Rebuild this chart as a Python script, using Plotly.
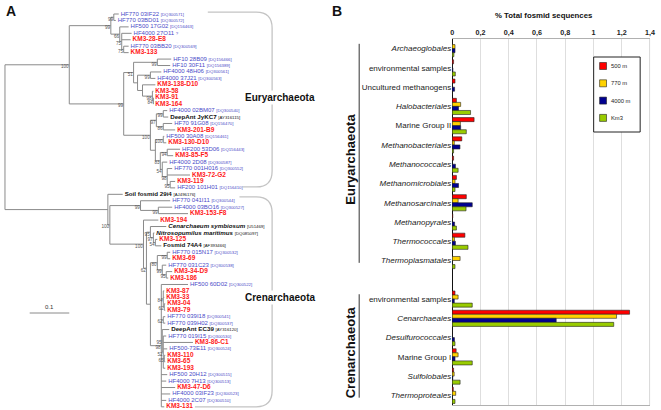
import plotly.graph_objects as go

# ======================= Panel B data =======================
series_names = ["500 m", "770 m", "4000 m", "Km3"]
series_colors = ["#FF0000", "#FFD200", "#000090", "#99CC00"]

eury_categories = ["Archaeoglobales", "environmental samples", "Uncultured methanogens",
                   "Halobacteriales", "Marine Group II", "Methanobacteriales",
                   "Methanococcales", "Methanomicrobiales", "Methanosarcinales",
                   "Methanopyrales", "Thermococcales", "Thermoplasmatales"]
cren_categories = ["environmental samples", "Cenarchaeales", "Desulfurococcales",
                   "Marine Group I", "Sulfolobales", "Thermoproteales"]
plain_categories = ["environmental samples", "Uncultured methanogens",
                    "Marine Group II", "Marine Group I"]

eury_500 = [0.0, 0.010, 0.020, 0.030, 0.155, 0.068, 0.010, 0.030, 0.100, 0.004, 0.090, 0.0]
eury_770 = [0.020, 0.0, 0.0, 0.060, 0.058, 0.015, 0.0, 0.020, 0.042, 0.0, 0.016, 0.056]
eury_4000 = [0.020, 0.005, 0.017, 0.045, 0.060, 0.055, 0.023, 0.045, 0.142, 0.017, 0.023, 0.0]
eury_km3 = [0.012, 0.022, 0.0, 0.130, 0.100, 0.010, 0.042, 0.020, 0.098, 0.030, 0.112, 0.020]

cren_500 = [0.020, 1.255, 0.0, 0.028, 0.010, 0.008]
cren_770 = [0.042, 1.163, 0.0, 0.042, 0.014, 0.025]
cren_4000 = [0.015, 0.736, 0.016, 0.020, 0.004, 0.0]
cren_km3 = [0.142, 1.143, 0.020, 0.142, 0.056, 0.020]

x_ticks = [0, 0.2, 0.4, 0.6, 0.8, 1.0, 1.2, 1.4]
x_tick_labels = ["0", "0,2", "0,4", "0,6", "0,8", "1", "1,2", "1,4"]

# ======================= Panel A data (tree) =======================
def leaf(name, bl, kind="env", acc=""):
    return {"name": name, "bl": bl, "kind": kind, "acc": acc}


def node(bl, sup, *kids):
    return {"bl": bl, "sup": sup, "kids": list(kids)}


eury_clade = node(0.1625, 100,
    node(0.105, 99,
        node(0.0075, 99,
            leaf("HF770 03IF22", 0.0125, acc="DQ300571"),
            leaf("HF770 03BD01", 0.005, acc="DQ300572")),
        node(0.0225, 66,
            leaf("HF500 17G02", 0.0225, acc="DQ156463"),
            node(0.005, 75,
                leaf("HF4000 27O11", 0.025, acc="?"),
                leaf("KM3-28-E8", 0.0225, "km3"),
                node(0.005, 75,
                    leaf("HF770 03BB20", 0.0125, acc="DQ300569"),
                    leaf("KM3-133", 0.0125, "km3"))))),
    node(0.1375, 99,
        node(0.025, 51,
            node(0.06, 99,
                leaf("HF10 28B09", 0.035, acc="DQ156466"),
                leaf("HF10 30F11", 0.0325, acc="DQ156389")),
            node(0.01, None,
                node(0.0325, 99,
                    leaf("HF4000 48H06", 0.0275, acc="DQ300561"),
                    leaf("HF4000 37J21", 0.0125, acc="DQ300563")),
                node(0.0125, None,
                    leaf("KM3-138-D10", 0.0325, "km3"),
                    node(0.025, 98,
                        leaf("KM3-58", 0.0025, "km3"),
                        node(0.0025, 84,
                            leaf("KM3-91", 0.0, "km3"),
                            leaf("KM3-164", 0.0, "km3")))))),
        node(0.0675, 100,
            node(0.015, 97,
                node(0.0175, 99,
                    leaf("HF4000 02BM07", 0.01, acc="DQ300540"),
                    leaf("DeepAnt JyKC7", 0.0125, "ref", acc="AY316115")),
                node(0.0175, 86,
                    leaf("HF70 91G08", 0.0225, acc="DQ156470"),
                    leaf("KM3-201-B9", 0.03, "km3"))),
            node(0.0125, None,
                node(0.02, 100,
                    leaf("HF500 30A08", 0.0025, acc="DQ156461"),
                    leaf("KM3-130-D10", 0.0075, "km3")),
                node(0.0125, 83,
                    node(0.0175, 94,
                        leaf("HF200 53D06", 0.0325, acc="DQ156443"),
                        leaf("KM3-85-F5", 0.015, "km3")),
                    node(0.005, 54,
                        leaf("HF4000 2D08", 0.0125, acc="DQ300587"),
                        node(0.0125, 98,
                            leaf("HF770 001H016", 0.0125, acc="DQ300552"),
                            leaf("KM3-72-G2", 0.0575, "km3"),
                            node(0.0075, 95,
                                leaf("KM3-119", 0.0125, "km3"),
                                leaf("HF200 101H01", 0.0125, acc="DQ156410")))))))))

cren_clade = node(0.26, None,
    leaf("Soil fosmid 29i4", 0.0375, "ref", acc="AJ496176"),
    node(0.005, 100,
        node(0.0775, 99,
            leaf("HF770 041I11", 0.075, acc="DQ300544"),
            node(0.045, 99,
                leaf("HF4000 03BO16", 0.035, acc="DQ300527"),
                leaf("KM3-153-F8", 0.075, "km3"))),
        node(0.085, 100,
            leaf("KM3-194", 0.0375, "km3"),
            node(0.0075, 62,
                node(0.01, 95,
                    leaf("Cenarchaeum symbiosum", 0.04, "refi", acc="U51469"),
                    node(0.0075, 97,
                        leaf("Nitrosopumilus maritimus", 0.0025, "refi", acc="DQ085097"),
                        node(0.005, 54,
                            leaf("KM3-125", 0.005, "km3"),
                            leaf("Fosmid 74A4", 0.015, "ref", acc="AF393466")))),
                node(0.01, None,
                    node(0.0175, 80,
                        node(0.025, 99,
                            leaf("HF770 015N17", 0.0075, acc="DQ300532"),
                            leaf("KM3-69", 0.0075, "km3")),
                        node(0.0125, 99,
                            leaf("HF770 031C23", 0.01, acc="DQ300538"),
                            node(0.01, 95,
                                leaf("KM3-34-D9", 0.015, "km3"),
                                leaf("KM3-186", 0.005, "km3")))),
                    node(0.0275, 98,
                        leaf("HF500 60D02", 0.0675, acc="DQ300522"),
                        node(0.005, 84,
                            leaf("KM3-87", 0.0025, "km3"),
                            leaf("KM3-33", 0.0025, "km3"),
                            node(0.0025, 62,
                                leaf("KM3-04", 0.0025, "km3"),
                                leaf("KM3-79", 0.0025, "km3"))),
                        node(0.005, 62,
                            leaf("HF770 039I18", 0.005, acc="DQ300541"),
                            leaf("HF770 039H02", 0.005, acc="DQ300537")),
                        node(0.0025, 95,
                            leaf("DeepAnt EC39", 0.0175, "ref", acc="AY316120"),
                            node(0.0025, 52,
                                leaf("HF770 019I15", 0.0075, acc="DQ300530"),
                                leaf("KM3-86-C1", 0.075, "km3"),
                                leaf("HF500-73E11", 0.01, acc="DQ300524"),
                                node(0.0025, 65,
                                    leaf("KM3-110", 0.0025, "km3"),
                                    leaf("KM3-65", 0.0025, "km3")),
                                leaf("KM3-193", 0.005, "km3"))),
                        leaf("HF500 20H12", 0.015, acc="DQ300515"),
                        leaf("HF4000 7H13", 0.0125, acc="DQ300513"),
                        leaf("KM3-47-D6", 0.035, "km3"),
                        leaf("HF4000 03IF23", 0.0225, acc="DQ300523"),
                        leaf("HF4000 2C07", 0.0125, acc="DQ300510"),
                        leaf("KM3-131", 0.0075, "km3")))))))

tree_root = node(0.0, None, eury_clade, cren_clade)
scale_bar_length = 0.1

# ======================= Tree layout =======================
leaves = []
internal = []


def lay(n, x_parent):
    n["x"] = x_parent + n["bl"]
    n["px"] = x_parent
    if "kids" in n:
        for k in n["kids"]:
            lay(k, n["x"])
        n["y"] = (n["kids"][0]["y"] + n["kids"][-1]["y"]) / 2.0
        internal.append(n)
    else:
        n["y"] = float(len(leaves))
        leaves.append(n)


lay(tree_root, 0.0)

seg_x, seg_y = [], []
for n in internal:
    seg_x += [n["x"], n["x"], None]
    seg_y += [n["kids"][0]["y"], n["kids"][-1]["y"], None]
    for k in n["kids"]:
        seg_x += [k["px"], k["x"], None]
        seg_y += [k["y"], k["y"], None]

PX_PER_UNIT = 400.0      # horizontal pixels per substitution/site
LEAF_PITCH = 6.44        # vertical pixels per leaf
TREE_X0_PX = 3.0
TREE_Y0_PX = 14.0
W, H = 661, 410
PANEL_A_W = 330
LABEL_GAP = 2.0 / PX_PER_UNIT

fig = go.Figure()

# tree branches
fig.add_trace(go.Scatter(x=seg_x, y=seg_y, mode="lines", xaxis="x2", yaxis="y2",
                         line=dict(color="#8a8a8a", width=1), hoverinfo="skip",
                         showlegend=False))

# leaf labels
kind_style = {
    "env": dict(color="#4b4bc8", size=6),
    "km3": dict(color="#ff1a1a", size=6.5),
    "ref": dict(color="#111111", size=6.2),
    "refi": dict(color="#111111", size=6.2),
}


def leaf_text(lf):
    acc = lf["acc"]
    acc_txt = ""
    if acc:
        a = acc if acc == "?" else "[" + acc + "]"
        acc_txt = " <span style='font-size:4.3px'>" + a + "</span>"
    if lf["kind"] == "env":
        return lf["name"] + acc_txt
    if lf["kind"] == "km3":
        return "<b>" + lf["name"] + "</b>"
    if lf["kind"] == "ref":
        return "<b>" + lf["name"] + "</b>" + acc_txt
    return "<b><i>" + lf["name"] + "</i></b>" + acc_txt


for kind, style in kind_style.items():
    sel = [lf for lf in leaves if lf["kind"] == kind]
    fig.add_trace(go.Scatter(
        x=[lf["x"] + LABEL_GAP for lf in sel], y=[lf["y"] for lf in sel],
        text=[leaf_text(lf) for lf in sel], mode="text", textposition="middle right",
        textfont=dict(family="Liberation Sans, Arial, sans-serif", **style),
        xaxis="x2", yaxis="y2", hoverinfo="skip", showlegend=False))

# bootstrap supports
sup_nodes = [n for n in internal if n["sup"] is not None]
fig.add_trace(go.Scatter(
    x=[n["x"] - 0.7 / PX_PER_UNIT for n in sup_nodes], y=[n["y"] for n in sup_nodes],
    text=[str(n["sup"]) for n in sup_nodes], mode="text", textposition="bottom left",
    textfont=dict(family="Liberation Sans, Arial, sans-serif", size=4.6, color="#555555"),
    xaxis="x2", yaxis="y2", hoverinfo="skip", showlegend=False))

# ======================= Panel B bars =======================
eury_rows = list(range(len(eury_categories)))
cren_rows = [len(eury_categories) + 1 + i for i in range(len(cren_categories))]
rows = eury_rows + cren_rows
all_categories = eury_categories + cren_categories
tick_text = [c if c in plain_categories else "<i>" + c + "</i>" for c in all_categories]

series_values = [eury_500 + cren_500, eury_770 + cren_770,
                 eury_4000 + cren_4000, eury_km3 + cren_km3]
for name, color, vals in zip(series_names, series_colors, series_values):
    fig.add_trace(go.Bar(x=vals, y=rows, orientation="h", name=name,
                         marker=dict(color=color, line=dict(color="#222222", width=0.6)),
                         xaxis="x", yaxis="y", showlegend=False))

n_slots = len(eury_categories) + 1 + len(cren_categories)

B_LEFT, B_RIGHT, B_TOP, B_BOTTOM = 455, 655, 39, 405

fig.update_layout(
    width=W, height=H, margin=dict(l=0, r=0, t=0, b=0),
    paper_bgcolor="white", plot_bgcolor="white",
    font=dict(family="Liberation Sans, Arial, sans-serif", color="#111111"),
    barmode="group", bargap=0.16, bargroupgap=0.0,
    showlegend=False,
    xaxis=dict(domain=[B_LEFT / W, B_RIGHT / W], range=[0, 1.4], side="top",
               tickvals=x_ticks, ticktext=["<b>" + t + "</b>" for t in x_tick_labels],
               tickfont=dict(size=7.2, color="#222222"), ticks="",
               showgrid=True, gridcolor="#dedede", gridwidth=1,
               zeroline=True, zerolinecolor="#111111", zerolinewidth=1,
               showline=True, linecolor="#b0b0b0", linewidth=1, mirror=True,
               anchor="y", fixedrange=True),
    yaxis=dict(domain=[1 - B_BOTTOM / H, 1 - B_TOP / H], range=[n_slots - 0.5, -0.5],
               tickvals=rows, ticktext=tick_text, tickfont=dict(size=8, color="#222222"),
               ticks="", showgrid=False, zeroline=False, showline=False,
               anchor="x", fixedrange=True),
    xaxis2=dict(domain=[0, PANEL_A_W / W],
                range=[(0 - TREE_X0_PX) / PX_PER_UNIT, (PANEL_A_W - TREE_X0_PX) / PX_PER_UNIT],
                visible=False, anchor="y2", fixedrange=True),
    yaxis2=dict(domain=[0, 1],
                range=[(H - TREE_Y0_PX) / LEAF_PITCH, (0 - TREE_Y0_PX) / LEAF_PITCH],
                visible=False, anchor="x2", fixedrange=True),
)


def ux(px):
    return (px - TREE_X0_PX) / PX_PER_UNIT


def uy(py):
    return (py - TREE_Y0_PX) / LEAF_PITCH


shapes = []
# right border of plot area in panel B
shapes.append(dict(type="line", xref="x", yref="y domain", x0=1.4, x1=1.4, y0=0, y1=1,
                   line=dict(color="#b0b0b0", width=1)))

# group separator lines and labels in panel B
annotations = []
for grp_rows, label in [(eury_rows, "Euryarchaeota"), (cren_rows, "Crenarchaeota")]:
    shapes.append(dict(type="line", xref="paper", yref="y", x0=361 / W, x1=361 / W,
                       y0=grp_rows[0] - 0.25, y1=grp_rows[-1] + 0.12,
                       line=dict(color="#333333", width=1)))
    annotations.append(dict(text="<b>" + label + "</b>", xref="paper", yref="y",
                            x=352 / W, y=(grp_rows[0] + grp_rows[-1]) / 2 + 0.25,
                            textangle=-90, showarrow=False, font=dict(size=13, color="#111111"),
                            xanchor="center", yanchor="middle"))

# manual legend
LEG_X0, LEG_X1, LEG_Y0 = 598, 645, 57
shapes.append(dict(type="rect", xref="paper", yref="paper", x0=LEG_X0 / W, x1=LEG_X1 / W,
                   y0=1 - 132 / H, y1=1 - LEG_Y0 / H, line=dict(color="#222222", width=1),
                   fillcolor="white", layer="above"))
for i, (name, color) in enumerate(zip(series_names, series_colors)):
    cy = 66 + i * 17.3
    shapes.append(dict(type="rect", xref="paper", yref="paper", x0=604 / W, x1=611 / W,
                       y0=1 - (cy + 3.5) / H, y1=1 - (cy - 3.5) / H,
                       fillcolor=color, line=dict(color="#222222", width=0.6), layer="above"))
    annotations.append(dict(text=name, xref="paper", yref="paper", x=614 / W, y=1 - cy / H,
                            xanchor="left", yanchor="middle", showarrow=False,
                            font=dict(size=5.8, color="#222222")))

# panel B title
annotations.append(dict(text="<b>% Total fosmid sequences</b>", xref="paper", yref="paper",
                        x=548 / W, y=1 - 15 / H, xanchor="center", yanchor="middle",
                        showarrow=False, font=dict(size=7.8, color="#111111")))

# panel letters
annotations.append(dict(text="<b>A</b>", xref="paper", yref="paper", x=2 / W, y=1 - 1 / H,
                        xanchor="left", yanchor="top", showarrow=False,
                        font=dict(size=14, color="#111111")))
annotations.append(dict(text="<b>B</b>", xref="paper", yref="paper", x=332 / W, y=1 - 1 / H,
                        xanchor="left", yanchor="top", showarrow=False,
                        font=dict(size=14, color="#111111")))

# clade brackets in panel A
eury_first = 0
eury_last = max(i for i, lf in enumerate(leaves) if lf["name"] == "HF200 101H01")
cren_first = eury_last + 2
cren_last = len(leaves) - 1


def bracket(y_top, y_bot, xl_top, xl_bot, xr, r_px=16):
    rx = r_px / PX_PER_UNIT
    ry = r_px / LEAF_PITCH
    return ("M {a},{t} L {b},{t} Q {c},{t} {c},{d} L {c},{e} Q {c},{f} {b},{f} L {g},{f}"
            .format(a=xl_top, t=y_top, b=xr - rx, c=xr, d=y_top + ry, e=y_bot - ry,
                    f=y_bot, g=xl_bot))


shapes.append(dict(type="path", xref="x2", yref="y2",
                   path=bracket(eury_first - 0.3, eury_last - 0.15, ux(208), ux(243), ux(273)),
                   line=dict(color="#c4c4c4", width=1.3)))
shapes.append(dict(type="path", xref="x2", yref="y2",
                   path=bracket(cren_first - 0.6, cren_last, ux(240), ux(195), ux(273)),
                   line=dict(color="#c4c4c4", width=1.3)))

annotations.append(dict(text="<b>Euryarchaeota</b>", xref="x2", yref="y2", x=ux(281), y=uy(97),
                        xanchor="center", yanchor="middle", showarrow=False, bgcolor="white",
                        font=dict(size=10, color="#111111")))
annotations.append(dict(text="<b>Crenarchaeota</b>", xref="x2", yref="y2", x=ux(281), y=uy(297),
                        xanchor="center", yanchor="middle", showarrow=False, bgcolor="white",
                        font=dict(size=10, color="#111111")))

# scale bar
sb_x0 = ux(28)
shapes.append(dict(type="line", xref="x2", yref="y2", x0=sb_x0, x1=sb_x0 + scale_bar_length,
                   y0=uy(313), y1=uy(313), line=dict(color="#8a8a8a", width=1)))
annotations.append(dict(text=str(scale_bar_length), xref="x2", yref="y2",
                        x=sb_x0 + scale_bar_length / 2, y=uy(307), showarrow=False,
                        xanchor="center", yanchor="middle", font=dict(size=6, color="#333333")))

fig.update_layout(shapes=shapes, annotations=annotations)
fig.write_html("out.html",
               config={"displayModeBar": False, "staticPlot": True},
               post_script="document.body.style.margin='0';document.body.style.overflow='hidden';")
